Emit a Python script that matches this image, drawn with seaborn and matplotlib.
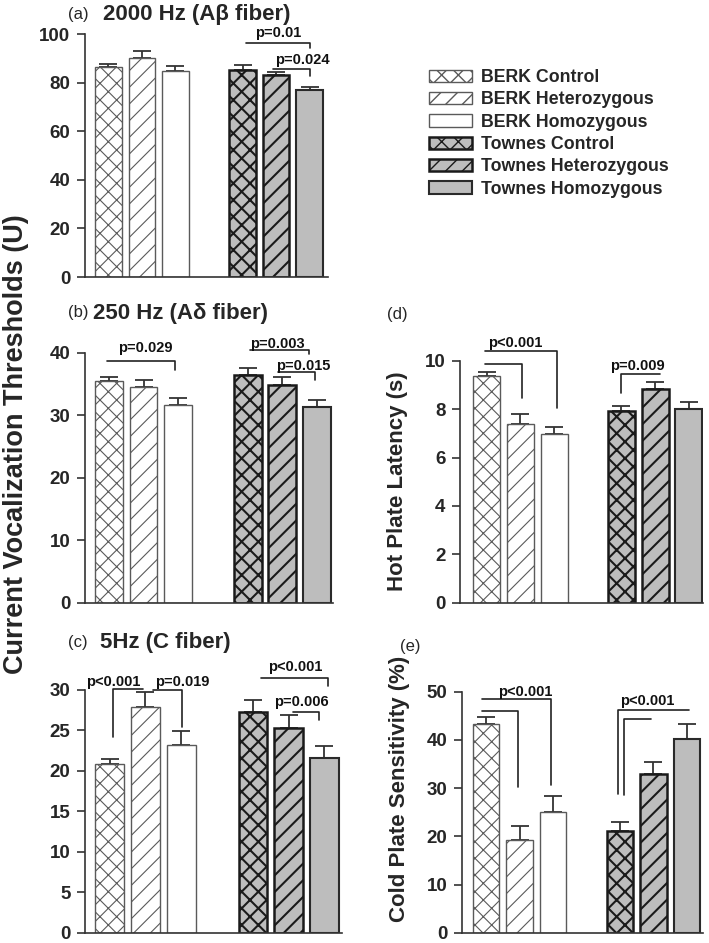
import matplotlib
matplotlib.use("Agg")
import matplotlib.pyplot as plt
import matplotlib.patches as mpatches
import seaborn as sns
import pandas as pd

sns.set_theme(style="white")
plt.rcParams['font.family'] = ['Liberation Sans', 'DejaVu Sans']
plt.rcParams['font.weight'] = 'bold'
plt.rcParams['hatch.linewidth'] = 1.0

# ---------------- data ----------------
groups = ["BERK Control", "BERK Heterozygous", "BERK Homozygous",
          "Townes Control", "Townes Heterozygous", "Townes Homozygous"]

a_mean = [86.6, 90.4, 85.0, 85.3, 83.2, 76.9]
a_sem = [1.2, 2.7, 1.8, 2.1, 1.1, 1.3]

b_mean = [35.5, 34.5, 31.6, 36.5, 34.9, 31.3]
b_sem = [0.55, 1.2, 1.1, 1.0, 1.2, 1.2]

c_mean = [20.85, 27.95, 23.2, 27.3, 25.25, 21.55]
c_sem = [0.6, 1.85, 1.75, 1.45, 1.65, 1.5]

d_mean = [9.37, 7.38, 6.97, 7.93, 8.82, 7.99]
d_sem = [0.15, 0.42, 0.30, 0.21, 0.31, 0.31]

e_mean = [43.4, 19.2, 25.1, 21.2, 32.9, 40.1]
e_sem = [1.45, 3.0, 3.3, 1.7, 2.45, 3.1]

# ---------------- styling ----------------
W, H = 709, 943
GRAY = '#bdbdbd'
styles = {
    "BERK Control": dict(fc='white', hatch='xx', ec='#5a5a5a', lw=1.0, hlw=0.8),
    "BERK Heterozygous": dict(fc='white', hatch='//', ec='#5a5a5a', lw=1.0, hlw=0.8),
    "BERK Homozygous": dict(fc='white', hatch='', ec='#5a5a5a', lw=1.0, hlw=0.8),
    "Townes Control": dict(fc=GRAY, hatch='xx', ec='#1a1a1a', lw=1.8, hlw=1.5),
    "Townes Heterozygous": dict(fc=GRAY, hatch='//', ec='#1a1a1a', lw=1.8, hlw=1.5),
    "Townes Homozygous": dict(fc=GRAY, hatch='', ec='#2a2a2a', lw=1.5, hlw=1.5),
}
order = groups[:3] + [" "] + groups[3:]

fig = plt.figure(figsize=(W / 100, H / 100), dpi=100)


def make_axes(px_left, px_right, px_top, px_bottom):
    return fig.add_axes([px_left / W, 1 - px_bottom / H,
                         (px_right - px_left) / W, (px_bottom - px_top) / H])


def panel(ax, means, sems, ymax, ystep, xlim):
    df = pd.DataFrame({"group": groups, "value": means})
    sns.barplot(data=df, x="group", y="value", order=order, ax=ax,
                width=0.8, errorbar=None, color='white')
    for p in ax.patches:
        idx = int(round(p.get_x() + p.get_width() / 2))
        st = styles[order[idx]]
        p.set_facecolor(st['fc'])
        p.set_edgecolor(st['ec'])
        p.set_linewidth(st['lw'])
        p.set_hatch(st['hatch'])
        if hasattr(p, 'set_hatch_linewidth'):
            p.set_hatch_linewidth(st['hlw'])
        p.set_zorder(2)
    xs = [order.index(g) for g in groups]
    ax.errorbar(xs, means, yerr=[[0] * len(sems), sems], fmt='none',
                ecolor='#333333', elinewidth=1.3, capsize=6.5, capthick=1.3,
                zorder=1)
    ax.set_ylim(0, ymax)
    ax.set_xlim(*xlim)
    ax.set_yticks(list(range(0, ymax + 1, ystep)))
    ax.set_xticks([])
    ax.set_xlabel("")
    ax.set_ylabel("")
    for s in ['top', 'right']:
        ax.spines[s].set_visible(False)
    for s in ['left', 'bottom']:
        ax.spines[s].set_color('#333333')
        ax.spines[s].set_linewidth(1.2)
    ax.tick_params(axis='y', direction='out', length=5.5, width=1.2,
                   color='#333333', labelsize=13.5, pad=5, left=True)
    for lab in ax.get_yticklabels():
        lab.set_fontweight('bold')
    ax.set_facecolor('none')


def bracket(ax, pts, text, tx, ty):
    xs = [p[0] for p in pts]
    ys = [p[1] for p in pts]
    ax.plot(xs, ys, color='#222222', lw=1.2, clip_on=False, zorder=3)
    if text:
        ax.text(tx, ty, text, ha='center', va='center', fontsize=10.5,
                fontweight='bold', color='#111111', clip_on=False, zorder=4)


# ---------------- panel a ----------------
axa = make_axes(85, 328, 34.3, 277)
panel(axa, a_mean, a_sem, 100, 20, (-0.70, 6.55))
bracket(axa, [(4.1, 96.5), (6.02, 96.5), (6.02, 94.5)], "p=0.01", 5.06, 100.5)
bracket(axa, [(4.9, 85.7), (6.02, 85.7), (6.02, 82.8)], "p=0.024", 5.78, 89.4)

# ---------------- panel b ----------------
axb = make_axes(85, 333, 352.7, 602.7)
panel(axb, b_mean, b_sem, 40, 10, (-0.69, 6.46))
bracket(axb, [(-0.06, 38.7), (1.91, 38.7), (1.91, 37.2)], "p=0.029", 1.04, 40.7)
bracket(axb, [(4.08, 40.5), (5.77, 40.5), (5.77, 39.8)], "p=0.003", 4.87, 41.4)
bracket(axb, [(4.86, 36.96), (5.94, 36.96), (5.94, 35.7)], "p=0.015", 5.59, 37.9)

# ---------------- panel c ----------------
axc = make_axes(85, 342, 690, 932.7)
panel(axc, c_mean, c_sem, 30, 5, (-0.69, 6.49))
bracket(axc, [(0.09, 24.2), (0.09, 30.09), (0.93, 30.09)], "p<0.001", 0.09, 31.0)
bracket(axc, [(1.21, 30.0), (2.02, 30.0), (2.02, 25.46)], "p=0.019", 2.02, 31.0)
bracket(axc, [(4.22, 31.44), (6.1, 31.44), (6.1, 30.5)], "p<0.001", 5.19, 32.9)
bracket(axc, [(5.11, 27.24), (5.85, 27.24), (5.85, 26.3)], "p=0.006", 5.36, 28.5)

# ---------------- panel d ----------------
axd = make_axes(460, 703, 360.7, 602.7)
panel(axd, d_mean, d_sem, 10, 2, (-0.79, 6.42))
bracket(axd, [(-0.05, 10.41), (2.1, 10.41), (2.1, 8.03)], "p<0.001", 0.85, 10.73)
bracket(axd, [(-0.05, 9.86), (1.05, 9.86), (1.05, 8.45)], "", 0, 0)
bracket(axd, [(4.0, 8.65), (4.0, 9.44), (5.15, 9.44)], "p=0.009", 4.47, 9.78)

# ---------------- panel e ----------------
axe = make_axes(462, 703, 691.7, 932.7)
panel(axe, e_mean, e_sem, 50, 10, (-0.72, 6.48))
bracket(axe, [(-0.13, 48.4), (1.93, 48.4), (1.93, 30.6)], "p<0.001", 1.16, 49.9)
bracket(axe, [(-0.13, 46.0), (0.96, 46.0), (0.96, 30.3)], "", 0, 0)
bracket(axe, [(3.95, 28.8), (3.95, 46.3), (6.07, 46.3)], "p<0.001", 4.82, 48.0)
bracket(axe, [(4.13, 28.6), (4.13, 44.3), (4.93, 44.3)], "", 0, 0)

# ---------------- titles / labels ----------------
def ftext(x, y, s, **kw):
    fig.text(x / W, 1 - y / H, s, **kw)


ftext(68, 14.5, "(a)", ha='left', va='center', fontsize=12, fontweight='normal')
ftext(103, 14.5, "2000 Hz (Aβ fiber)", ha='left', va='center', fontsize=16, fontweight='bold')
ftext(68, 313, "(b)", ha='left', va='center', fontsize=12, fontweight='normal')
ftext(93, 313, "250 Hz (Aδ fiber)", ha='left', va='center', fontsize=16, fontweight='bold')
ftext(68, 642.5, "(c)", ha='left', va='center', fontsize=12, fontweight='normal')
ftext(100, 642.5, "5Hz (C fiber)", ha='left', va='center', fontsize=16, fontweight='bold')
ftext(387, 314, "(d)", ha='left', va='center', fontsize=12, fontweight='normal')
ftext(400, 646, "(e)", ha='left', va='center', fontsize=12, fontweight='normal')

ftext(16, 444, "Current Vocalization Thresholds (U)", rotation=90, ha='center',
      va='center', fontsize=19.5, fontweight='bold')
ftext(398, 481.5, "Hot Plate Latency (s)", rotation=90, ha='center',
      va='center', fontsize=16, fontweight='bold')
ftext(399, 789, "Cold Plate Sensitivity (%)", rotation=90, ha='center',
      va='center', fontsize=16, fontweight='bold')

# ---------------- legend ----------------
handles = []
for g in groups:
    st = styles[g]
    h = mpatches.Patch(facecolor=st['fc'], edgecolor=st['ec'], hatch=st['hatch'],
                       linewidth=st['lw'], label=g)
    handles.append(h)
leg = fig.legend(handles=handles, labels=groups, loc='upper left',
                 bbox_to_anchor=(429 / W, 1 - 69 / H), frameon=False,
                 borderpad=0, borderaxespad=0, handlelength=2.4,
                 handleheight=0.7, handletextpad=0.55, labelspacing=0.3,
                 prop={'size': 12.8, 'weight': 'bold'})

fig.savefig("out.png", dpi=100)
